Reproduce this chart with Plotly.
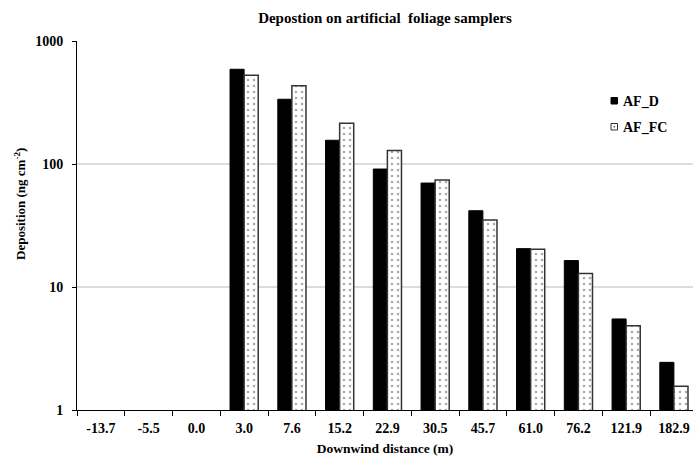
import plotly.graph_objects as go

categories = ["-13.7", "-5.5", "0.0", "3.0", "7.6", "15.2", "22.9", "30.5",
              "45.7", "61.0", "76.2", "121.9", "182.9"]
af_d = [None, None, None, 589, 336, 156, 91, 70, 41.7, 20.5, 16.4, 5.5, 2.44]
af_fc = [None, None, None, 526, 433, 214, 129, 74, 35, 20.3, 12.9, 4.84, 1.56]
series_names = ["AF_D", "AF_FC"]

FONT = "Liberation Serif"
W, H = 693, 456
L, R, T, B = 77, 0, 41, 46
PW, PH = W - L - R, H - T - B


def px(x):
    return (x - L) / PW


def py(y):
    return (H - B - y) / PH


fig = go.Figure()
fig.add_trace(go.Bar(
    name=series_names[0], x=categories, y=af_d, showlegend=False,
    marker=dict(color="black", line=dict(color="black", width=1)),
))
fig.add_trace(go.Bar(
    name=series_names[1], x=categories, y=af_fc, showlegend=False,
    marker=dict(color="white", line=dict(color="#333333", width=1.5),
                pattern=dict(shape=".", fgcolor="#555555", bgcolor="white",
                             size=6, solidity=0.15)),
))

# manual legend (small squares + bold labels)
shapes = [
    dict(type="rect", xref="paper", yref="paper",
         x0=px(611), x1=px(617.5), y0=py(104), y1=py(97.5),
         fillcolor="black", line=dict(color="black", width=1)),
    dict(type="rect", xref="paper", yref="paper",
         x0=px(611), x1=px(617.5), y0=py(130), y1=py(123.5),
         fillcolor="white", line=dict(color="#333333", width=1)),
    dict(type="rect", xref="paper", yref="paper",
         x0=px(613.6), x1=px(614.9), y0=py(127.4), y1=py(126.1),
         fillcolor="#444444", line=dict(width=0)),
]
annotations = [
    dict(text="<b>%s</b>" % series_names[0], xref="paper", yref="paper",
         x=px(621), y=py(101), xanchor="left", yanchor="middle", showarrow=False,
         font=dict(family=FONT, size=14, color="black")),
    dict(text="<b>%s</b>" % series_names[1], xref="paper", yref="paper",
         x=px(621), y=py(127), xanchor="left", yanchor="middle", showarrow=False,
         font=dict(family=FONT, size=14, color="black")),
    dict(text="<b>Deposition (ng cm<sup>-2</sup>)</b>", xref="paper", yref="paper",
         x=px(20), y=py(204), xanchor="center", yanchor="middle", textangle=-90,
         showarrow=False, font=dict(family=FONT, size=13, color="black")),
]

fig.update_layout(
    width=W, height=H,
    margin=dict(l=L, r=R, t=T, b=B),
    paper_bgcolor="white", plot_bgcolor="white",
    barmode="group", bargap=0.41, bargroupgap=0,
    font=dict(family=FONT, size=13, color="black"),
    title=dict(text="<b>Depostion on artificial  foliage samplers</b>",
               x=(L + W) / 2 / W, xanchor="center", y=1 - 18 / H, yanchor="middle",
               font=dict(family=FONT, size=15, color="black")),
    showlegend=False,
    shapes=shapes,
    annotations=annotations,
    xaxis=dict(
        type="category", range=[-0.5, 12.4],
        showline=True, linecolor="black", linewidth=1,
        ticks="outside", ticklen=5, tickcolor="black", tickson="boundaries",
        ticklabelstandoff=5,
        tickfont=dict(family=FONT, size=14, color="black"),
        title=dict(text="<b>Downwind distance (m)</b>", standoff=8,
                   font=dict(family=FONT, size=13.5, color="black")),
        showgrid=False,
    ),
    yaxis=dict(
        type="log", range=[0, 3], dtick=1,
        showline=True, linecolor="black", linewidth=1,
        ticks="outside", ticklen=4, tickcolor="black",
        ticklabelstandoff=6,
        tickfont=dict(family=FONT, size=14, color="black"),
        showgrid=True, gridcolor="#dcdcdc", gridwidth=1.5,
    ),
)
fig.update_xaxes(tickprefix="<b>", ticksuffix="</b>")
fig.update_yaxes(tickprefix="<b>", ticksuffix="</b>")

fig.write_html("out.html")
